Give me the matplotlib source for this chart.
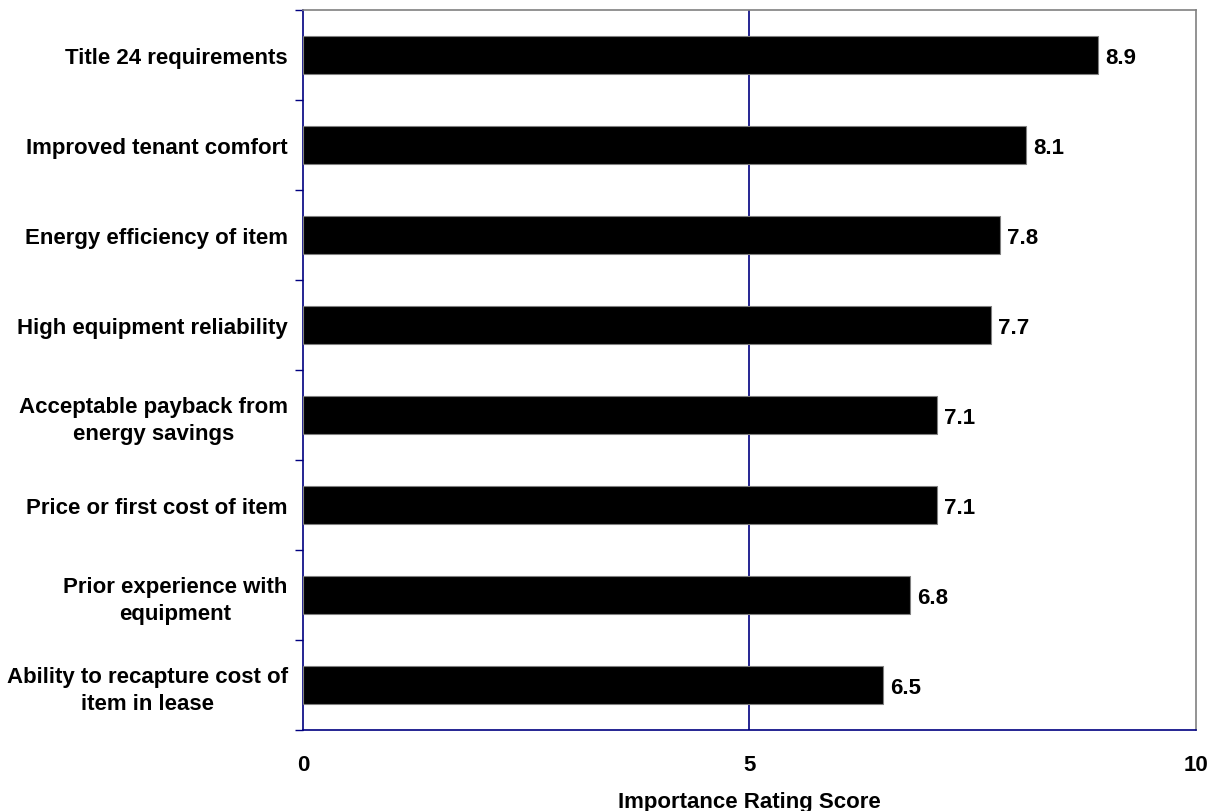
import numpy as np
import matplotlib.pyplot as plt

## factors and their mean importance rating (top to bottom)
factors = ["Title 24 requirements",
           "Improved tenant comfort",
           "Energy efficiency of item",
           "High equipment reliability",
           "Acceptable payback from\nenergy savings",
           "Price or first cost of item",
           "Prior experience with\nequipment",
           "Ability to recapture cost of\nitem in lease"]
scores = [8.9, 8.1, 7.8, 7.7, 7.1, 7.1, 6.8, 6.5]

navy = "#000080"
fs = 16
plt.rcParams["font.family"] = ["Liberation Sans", "DejaVu Sans"]
plt.rcParams["font.weight"] = "bold"

fig = plt.figure(figsize=(12.11, 8.12), dpi=100)
ax = fig.add_axes([0.2502, 0.0998, 0.7374, 0.8866])

y = np.arange(len(factors))
ax.barh(y, scores, height=0.42, color="black", edgecolor="#808080", linewidth=0.8, zorder=3)

### value labels at bar ends
for yi, s in zip(y, scores):
    ax.text(s + 0.08, yi, f"{s:.1f}", va="center_baseline", ha="left",
            fontsize=fs, fontweight="bold")

ax.set_xlim(0, 10)
ax.set_ylim(len(factors) - 0.5, -0.5)
ax.set_xticks([0, 5, 10])
ax.set_xticklabels(["0", "5", "10"], fontsize=fs, fontweight="bold")
ax.set_yticks(y)
ax.set_yticklabels(factors, fontsize=fs, fontweight="bold")
for lab in ax.get_yticklabels():
    lab.set_multialignment("center")
    lab.set_linespacing(1.32)

ax.tick_params(axis="y", which="major", length=0, pad=11)
ax.tick_params(axis="x", which="major", length=0, pad=17)
ax.set_yticks(np.arange(-0.5, len(factors), 1.0), minor=True)
ax.tick_params(axis="y", which="minor", length=6, color=navy, width=1)

### vertical gridline at 5
ax.axvline(5, color=navy, linewidth=1.2, zorder=2)

ax.spines["left"].set_color(navy)
ax.spines["bottom"].set_color(navy)
ax.spines["top"].set_color("#808080")
ax.spines["right"].set_color("#808080")
for sp in ax.spines.values():
    sp.set_linewidth(1.2)

ax.set_xlabel("Importance Rating Score", fontsize=fs, fontweight="bold", labelpad=12)

fig.savefig("out.png", dpi=100)
